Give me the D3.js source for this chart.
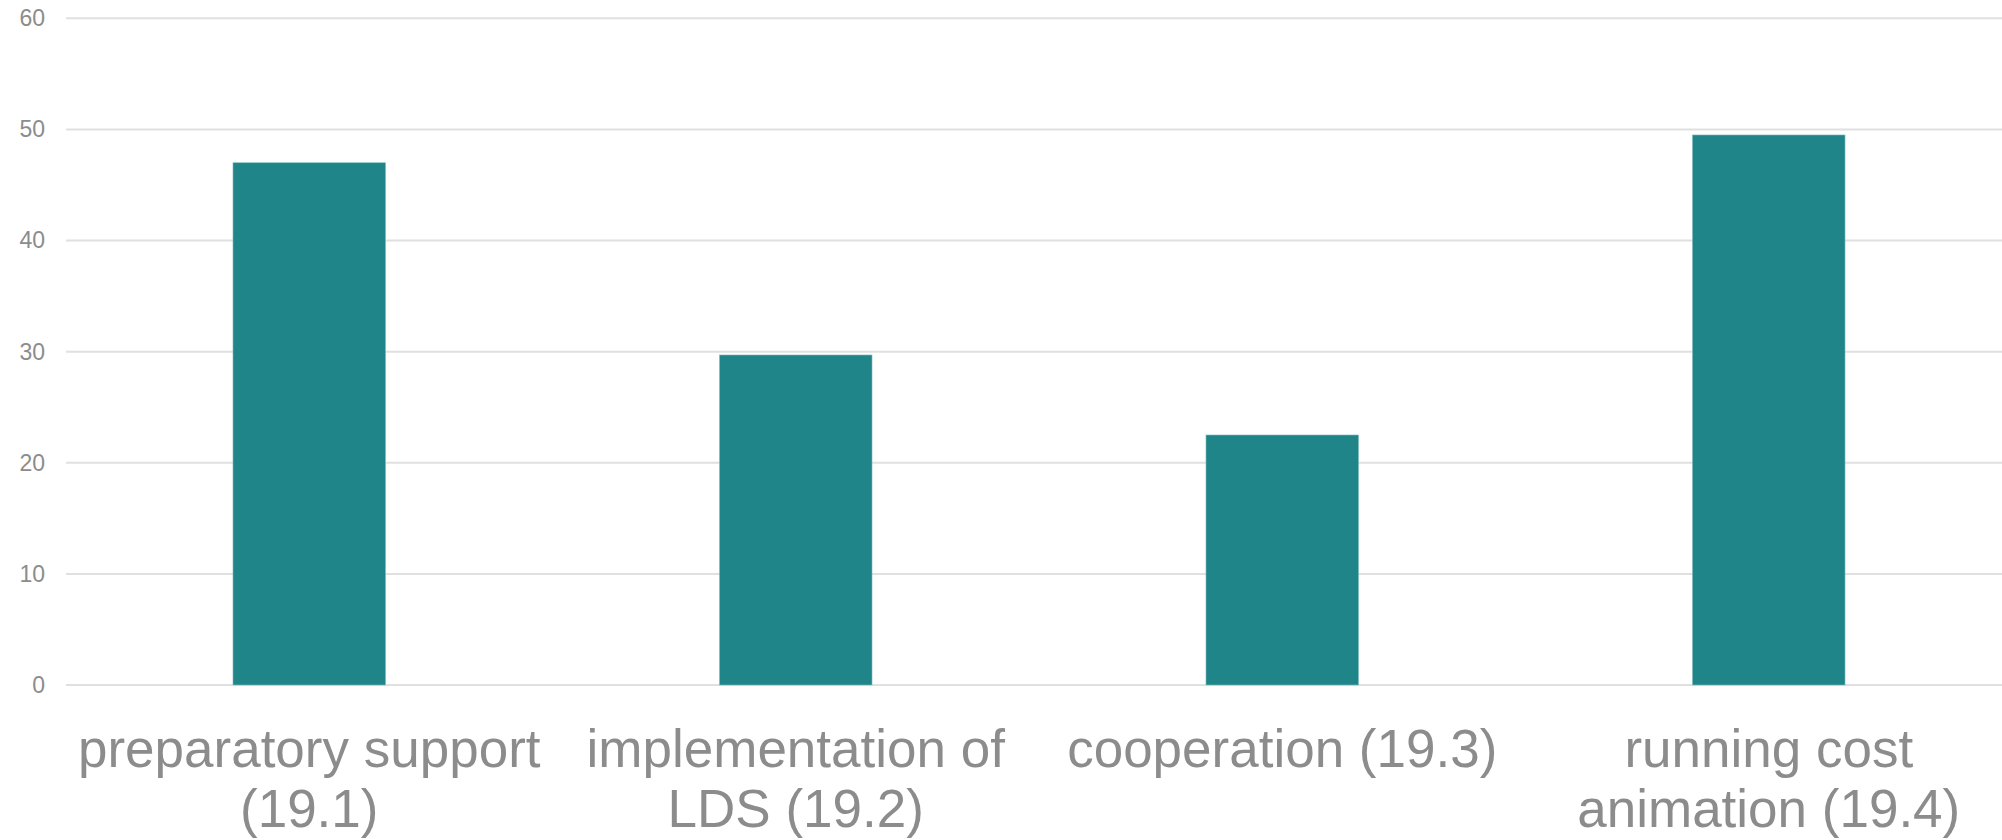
<!DOCTYPE html>
<html>
<head>
<meta charset="utf-8">
<script src="https://cdn.jsdelivr.net/npm/d3@7"></script>
<style>
  html, body { margin: 0; padding: 0; background: #ffffff; }
  svg { display: block; }
</style>
</head>
<body>
<svg id="chart" width="2002" height="840"></svg>
<script>
const categories = [
  "preparatory support (19.1)",
  "implementation of LDS (19.2)",
  "cooperation (19.3)",
  "running cost animation (19.4)"
];
const values = [47.0, 29.7, 22.5, 49.5];
const yTicks = [0, 10, 20, 30, 40, 50, 60];

const W = 2002, H = 840;
const plot = { left: 66, right: 2012, top: 18.3, bottom: 685 };
const svg = d3.select("#chart");
const font = "'Liberation Sans', Arial, Helvetica, sans-serif";
const textColor = "#8c8c8c";

const x = d3.scaleBand()
  .domain(categories)
  .range([plot.left, plot.right])
  .paddingInner(0.6865)
  .paddingOuter(0.6865 / 2);

const y = d3.scaleLinear().domain([0, 60]).range([plot.bottom, plot.top]);

// gridlines
svg.append("g")
  .selectAll("line")
  .data(yTicks)
  .join("line")
  .attr("x1", plot.left)
  .attr("x2", W)
  .attr("y1", d => y(d))
  .attr("y2", d => y(d))
  .attr("stroke", "#e0e0e0")
  .attr("stroke-width", 2);

// y axis labels
const yAxis = d3.axisLeft(y).tickValues(yTicks).tickSize(0).tickPadding(0);
const gy = svg.append("g").attr("transform", "translate(45,0)").call(yAxis);
gy.select(".domain").remove();
gy.selectAll("text")
  .attr("font-family", font)
  .attr("font-size", 23)
  .attr("fill", textColor);

// bars
svg.append("g")
  .selectAll("rect")
  .data(categories)
  .join("rect")
  .attr("x", d => x(d))
  .attr("width", x.bandwidth())
  .attr("y", (d, i) => y(values[i]))
  .attr("height", (d, i) => y(0) - y(values[i]))
  .attr("fill", "#1f8589")
  .attr("stroke", "#7fbcbf")
  .attr("stroke-width", 0.6);

// x labels with wrapping
const maxW = x.step();
const lab = svg.append("g");
categories.forEach(c => {
  const cx = x(c) + x.bandwidth() / 2;
  const t = lab.append("text")
    .attr("x", cx)
    .attr("y", 767)
    .attr("text-anchor", "middle")
    .attr("font-family", font)
    .attr("font-size", 53)
    .attr("fill", textColor);
  const words = c.split(" ");
  let lines = [];
  let cur = [];
  const probe = t.append("tspan");
  words.forEach(w => {
    const test = cur.concat([w]).join(" ");
    probe.text(test);
    if (probe.node().getComputedTextLength() > maxW - 10 && cur.length) {
      lines.push(cur.join(" "));
      cur = [w];
    } else {
      cur.push(w);
    }
  });
  if (cur.length) lines.push(cur.join(" "));
  probe.remove();
  lines.forEach((ln, i) => {
    t.append("tspan")
      .attr("x", cx)
      .attr("dy", i === 0 ? 0 : 60)
      .text(ln);
  });
});
</script>
</body>
</html>
